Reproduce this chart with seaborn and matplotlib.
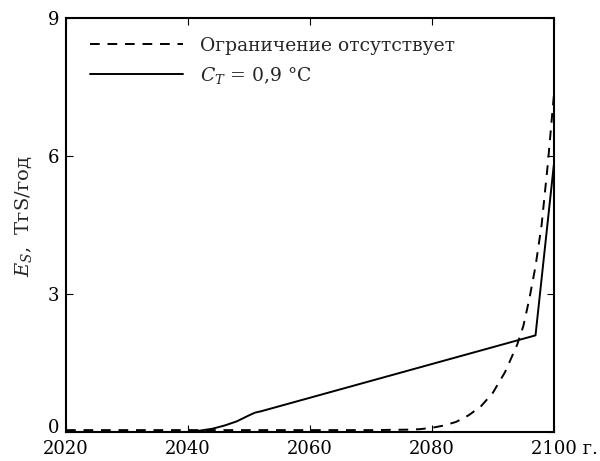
import matplotlib
matplotlib.use("Agg")
import matplotlib.pyplot as plt
import matplotlib.transforms as mtransforms
import seaborn as sns
import pandas as pd

# Data
years_free = [2020, 2030, 2040, 2050, 2060, 2070, 2076, 2078, 2080, 2082, 2084, 2086, 2088,
              2090, 2092, 2094, 2095, 2096, 2097, 2098, 2099, 2100]
es_free = [0.04, 0.04, 0.04, 0.04, 0.04, 0.04, 0.05, 0.06, 0.09, 0.14, 0.22, 0.36, 0.55,
           0.85, 1.3, 1.9, 2.3, 2.9, 3.6, 4.5, 5.8, 7.3]
years_lim = [2020, 2040, 2042, 2044, 2046, 2048, 2050, 2051, 2052, 2097, 2100]
es_lim = [0.0, 0.0, 0.03, 0.07, 0.14, 0.23, 0.36, 0.42, 0.45, 2.1, 5.8]
labels = ["Ограничение отсутствует", "$C_T$ = 0,9 °C"]
xticks = [2020, 2040, 2060, 2080, 2100]
xticklabels = ["2020", "2040", "2060", "2080", "2100 г."]
yticks = [0, 3, 6, 9]

sns.set_theme(style="ticks")
plt.rcParams["font.family"] = ["DejaVu Serif"]
plt.rcParams["mathtext.fontset"] = "dejavuserif"

df1 = pd.DataFrame({"year": years_free, "es": es_free})
df2 = pd.DataFrame({"year": years_lim, "es": es_lim})

fig, ax = plt.subplots(figsize=(6.0, 4.61), dpi=100)
fig.subplots_adjust(left=0.11, right=0.923, top=0.961, bottom=0.063)

sns.lineplot(data=df1, x="year", y="es", ax=ax, color="black", lw=1.4,
             linestyle=(0, (5, 4)), label=labels[0])
sns.lineplot(data=df2, x="year", y="es", ax=ax, color="black", lw=1.4,
             label=labels[1])

ax.set_xlim(2020, 2100)
ax.set_ylim(0, 9)
ax.set_xticks(xticks)
ax.set_xticklabels(xticklabels)
ax.set_yticks(yticks)
ax.tick_params(direction="in", length=5, width=0.8, top=True, right=True,
               labelsize=13, colors="black", pad=5)
ax.tick_params(axis="x", pad=6)
for s in ax.spines.values():
    s.set_linewidth(1.5)
    s.set_color("black")

# shift last tick label so the number sits under the tick
lbl = ax.get_xticklabels()[-1]
lbl.set_horizontalalignment("left")
lbl.set_transform(lbl.get_transform() + mtransforms.ScaledTranslation(-23 / 100, 0, fig.dpi_scale_trans))
# lift the "0" label slightly, as in the reference
zl = ax.get_yticklabels()[0]
zl.set_transform(zl.get_transform() + mtransforms.ScaledTranslation(0, 6 / 100, fig.dpi_scale_trans))

ax.set_xlabel("")
ax.set_ylabel("$E_S$,  TгS/год", fontsize=14)
ax.yaxis.set_label_coords(-0.065, 0.52)

leg = ax.legend(loc="upper left", frameon=False, fontsize=13.5, handlelength=5.0,
                handletextpad=0.9, borderaxespad=0.6, labelspacing=0.55,
                bbox_to_anchor=(0.01, 1.0))
for h in leg.get_lines():
    h.set_linewidth(1.4)

fig.savefig("out.png", dpi=100)
